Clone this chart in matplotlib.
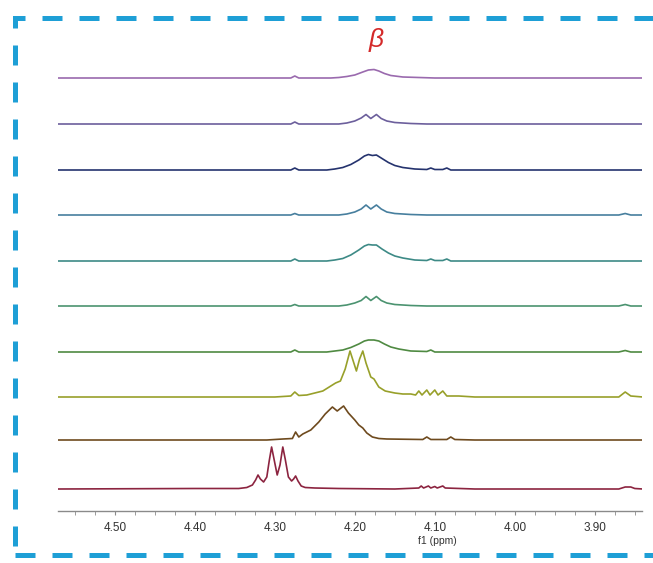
import numpy as np
import matplotlib
matplotlib.use("Agg")
import matplotlib.pyplot as plt
from matplotlib.patches import Rectangle

# spectra, top to bottom: (ppm, intensity) pairs
spec1 = [(4.57, 0), (4.28, 0), (4.275, 2), (4.27, 0), (4.23, 0), (4.22, 0.5), (4.21, 1.5),
         (4.20, 3), (4.19, 6), (4.183, 8), (4.176, 8.5), (4.170, 7), (4.163, 4.5),
         (4.155, 2.5), (4.14, 1), (4.12, 0.5), (4.10, 0), (3.84, 0)]
spec2 = [(4.57, 0), (4.28, 0), (4.275, 2), (4.27, 0), (4.22, 0), (4.21, 1), (4.20, 3),
         (4.192, 6), (4.186, 9.5), (4.180, 5.5), (4.173, 9.5), (4.167, 5.5), (4.16, 3),
         (4.15, 1.5), (4.13, 0.5), (4.11, 0), (3.84, 0)]
spec3 = [(4.57, 0), (4.28, 0), (4.275, 2), (4.27, 0), (4.235, 0), (4.225, 1), (4.215, 2.5),
         (4.205, 5.5), (4.195, 10), (4.188, 14), (4.183, 15.5), (4.178, 14.5), (4.173, 15),
         (4.166, 11.5), (4.158, 7.5), (4.15, 4.5), (4.14, 2.5), (4.125, 1), (4.11, 0.5),
         (4.105, 2), (4.10, 0.5), (4.09, 0.5), (4.085, 2), (4.08, 0), (3.84, 0)]
spec4 = [(4.57, 0), (4.28, 0), (4.275, 1.5), (4.27, 0), (4.22, 0), (4.21, 1), (4.20, 3),
         (4.192, 6), (4.186, 10), (4.180, 6), (4.173, 10), (4.167, 6), (4.16, 3),
         (4.15, 1.5), (4.13, 0.5), (4.11, 0), (3.87, 0), (3.862, 1.5), (3.855, 0), (3.84, 0)]
spec5 = [(4.57, 0), (4.28, 0), (4.275, 2), (4.27, 0), (4.235, 0), (4.225, 1), (4.215, 2.5),
         (4.205, 6), (4.195, 11), (4.188, 15), (4.183, 16.5), (4.178, 16), (4.173, 16),
         (4.166, 12), (4.158, 8), (4.15, 5), (4.14, 3), (4.125, 1), (4.11, 0.5),
         (4.105, 2), (4.10, 0.5), (4.09, 0.5), (4.085, 2), (4.08, 0), (3.84, 0)]
spec6 = [(4.57, 0), (4.28, 0), (4.275, 1.5), (4.27, 0), (4.22, 0), (4.21, 1), (4.20, 3),
         (4.192, 5.5), (4.186, 9.5), (4.180, 5.5), (4.173, 9.5), (4.167, 5.5), (4.16, 3),
         (4.15, 1.5), (4.13, 0.5), (4.11, 0), (3.87, 0), (3.862, 1.5), (3.855, 0), (3.84, 0)]
spec7 = [(4.57, 0), (4.28, 0), (4.275, 2), (4.27, 0), (4.235, 0), (4.225, 1), (4.215, 2),
         (4.205, 4.5), (4.195, 8), (4.188, 11), (4.183, 12), (4.176, 12), (4.170, 11),
         (4.163, 8), (4.155, 5), (4.145, 3), (4.13, 1), (4.11, 0.5), (4.105, 2), (4.10, 0),
         (3.87, 0), (3.862, 1.5), (3.855, 0), (3.84, 0)]
spec8 = [(4.57, 0), (4.30, 0), (4.28, 1), (4.275, 5), (4.27, 1.5), (4.26, 2), (4.25, 4),
         (4.24, 6), (4.232, 10), (4.224, 14), (4.218, 16), (4.212, 28), (4.206, 46),
         (4.202, 36), (4.198, 26), (4.194, 38), (4.190, 46), (4.186, 34), (4.180, 20),
         (4.176, 18), (4.170, 10), (4.162, 6), (4.15, 4), (4.14, 3), (4.13, 3), (4.124, 2),
         (4.12, 6), (4.116, 2), (4.11, 7), (4.106, 2), (4.10, 7), (4.096, 2), (4.09, 6),
         (4.085, 1), (4.07, 1), (4.05, 0), (3.87, 0), (3.862, 5), (3.855, 1), (3.84, 0)]
spec9 = [(4.57, 0), (4.31, 0), (4.29, 1), (4.278, 1.5), (4.274, 8), (4.270, 3), (4.265, 6),
         (4.255, 10), (4.245, 18), (4.237, 26), (4.228, 33), (4.222, 29), (4.214, 34),
         (4.208, 27), (4.20, 20), (4.195, 15), (4.19, 12), (4.185, 7), (4.178, 3),
         (4.17, 1.5), (4.16, 1), (4.115, 0.5), (4.11, 3), (4.105, 0.5), (4.085, 0.5),
         (4.08, 3), (4.075, 0.5), (4.05, 0), (3.84, 0)]
spec10 = [(4.57, 0), (4.40, 0.5), (4.345, 0.5), (4.335, 1.5), (4.328, 4), (4.324, 9),
          (4.321, 14), (4.318, 10), (4.314, 7), (4.310, 12), (4.307, 28), (4.304, 42),
          (4.301, 30), (4.297, 14), (4.2935, 24), (4.290, 42), (4.287, 30), (4.283, 12),
          (4.279, 8), (4.2765, 10), (4.274, 13), (4.271, 8), (4.267, 3), (4.262, 1.5),
          (4.25, 1), (4.22, 0.5), (4.15, 0), (4.12, 1), (4.117, 3), (4.114, 1), (4.108, 3),
          (4.105, 1), (4.10, 2.5), (4.097, 1), (4.09, 3), (4.087, 1), (4.05, 0), (3.87, 0),
          (3.862, 2), (3.855, 2), (3.85, 0.5), (3.84, 0)]

spectra = [spec1, spec2, spec3, spec4, spec5, spec6, spec7, spec8, spec9, spec10]
colors = ['#9a6aae', '#6c5f9c', '#25336e', '#477f9e', '#3d8a86',
          '#4b9370', '#4f8a42', '#98a02a', '#6e4a1e', '#8c2440']
# baseline of each trace, pixels from top of image
base_px = [78, 124, 170, 215, 261, 306, 352, 397, 440, 489]

W, H = 653, 563
fig = plt.figure(figsize=(W / 100, H / 100), dpi=100)
axis_px = 511
top_px = 20
ax = fig.add_axes([58 / W, (H - axis_px) / H, (642 - 58) / W, (axis_px - top_px) / H])

for spec, c, b in zip(spectra, colors, base_px):
    ppm = np.array([p[0] for p in spec])
    inten = np.array([p[1] for p in spec])
    ax.plot(ppm, inten + (axis_px - b), color=c, lw=1.2)

ax.set_xlim(4.571, 3.841)
ax.set_ylim(0, axis_px - top_px)
for s in ['top', 'left', 'right']:
    ax.spines[s].set_visible(False)
ax.spines['bottom'].set_color('#8a8a8a')
ax.spines['bottom'].set_linewidth(1.0)
ax.set_yticks([])
ax.set_xticks([4.50, 4.40, 4.30, 4.20, 4.10, 4.00, 3.90])
ax.set_xticklabels(['4.50', '4.40', '4.30', '4.20', '4.10', '4.00', '3.90'])
ax.set_xticks(np.arange(3.85, 4.571, 0.025), minor=True)
ax.tick_params(axis='x', which='both', length=3, color='#8a8a8a', direction='out',
               labelsize=8.5, labelcolor='#333333', pad=5)
for t in ax.get_xticklabels():
    t.set_family('Liberation Sans')
fig.text(437 / W, 1 - 541 / H, 'f1 (ppm)', ha='center', va='center', fontsize=7.5,
         color='#333333', family='Liberation Sans')

fig.text(376 / W, 1 - 40 / H, 'β', ha='center', va='center', fontsize=19,
         color='#d42a2a', style='italic', family='Liberation Sans')

# dashed frame
frame = Rectangle((15 / W, 1 - 555 / H), 700 / W, (555 - 18) / H, transform=fig.transFigure,
                  fill=False, edgecolor='#1e9fd6', lw=3.6, linestyle=(0, (4, 3.4)),
                  clip_on=False)
fig.patches.append(frame)

fig.savefig('out.png', dpi=100)
